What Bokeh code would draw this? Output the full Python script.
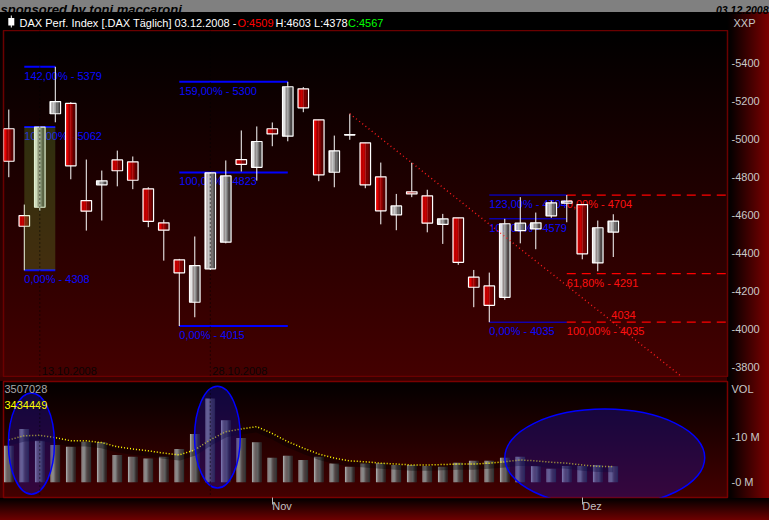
import numpy as np
from bokeh.plotting import figure
from bokeh.layouts import column, row
from bokeh.models import Range1d, FixedTicker, Span
from bokeh.core.properties import value
from bokeh.embed import file_html
from bokeh.resources import INLINE

# ---------------- data ----------------
last_date = "03.12.2008"
opens  = [5053, 4596, 4640, 5132, 5186, 4675, 4758, 4889, 4879, 4737,
          4558, 4363, 4140, 4316, 4456, 4891, 4850, 5053, 5014, 5263,
          5100, 4824, 5021, 4979, 4800, 4600, 4721, 4700, 4550, 4584,
          4272, 4226, 4166, 4517, 4526, 4595, 4661, 4654, 4347, 4509]
highs  = [5154, 4654, 5062, 5379, 5193, 4891, 4833, 4938, 4907, 4745,
          4575, 4368, 4486, 4823, 4886, 5044, 5065, 5086, 5300, 5272,
          5100, 5017, 5132, 4979, 4875, 4710, 4874, 4732, 4605, 4584,
          4310, 4296, 4579, 4693, 4612, 4675, 4704, 4654, 4570, 4603]
lows   = [4798, 4308, 4620, 5087, 4787, 4517, 4570, 4750, 4735, 4535,
          4359, 4015, 4061, 4310, 4450, 4828, 4780, 4961, 4987, 5140,
          4777, 4745, 4995, 4740, 4550, 4519, 4693, 4508, 4447, 4337,
          4114, 4035, 4153, 4450, 4419, 4584, 4561, 4366, 4303, 4378]
closes = [4882, 4540, 5062, 5196, 4858, 4619, 4779, 4832, 4782, 4566,
          4519, 4295, 4333, 4821, 4805, 4866, 4986, 5026, 5274, 5163,
          4810, 4937, 5022, 4758, 4621, 4647, 4710, 4556, 4579, 4350,
          4219, 4124, 4553, 4556, 4558, 4663, 4672, 4395, 4532, 4567]
volume_m = [8.0, 11.7, 9.1, 8.2, 7.8, 8.9, 8.8, 6.0, 5.6, 5.2,
            5.6, 7.3, 10.6, 18.4, 13.6, 9.7, 8.8, 5.4, 5.8, 4.9,
            5.6, 4.1, 3.4, 4.1, 4.2, 3.8, 3.8, 3.6, 3.4, 4.3,
            4.7, 4.7, 5.4, 5.6, 3.6, 3.0, 3.6, 3.6, 3.8, 3.507028]
vol_ma_m = [9.3, 10.2, 10.3, 9.8, 9.1, 9.1, 8.7, 7.8, 7.3, 6.9,
            6.4, 6.0, 7.1, 9.3, 11.1, 11.7, 12.2, 10.7, 8.9, 7.5,
            6.2, 5.3, 4.7, 4.5, 4.2, 4.0, 3.8, 3.8, 3.9, 4.0,
            4.0, 4.2, 4.5, 4.9, 4.7, 4.4, 4.2, 3.8, 3.5, 3.434449]

price_ticks = [3800, 4000, 4200, 4400, 4600, 4800, 5000, 5200, 5400]
vol_ticks = [0, 10]
vol_title_pos = 20.4
month_tick_idx = [17, 37]
month_tick_lbl = ["Nov", "Dez"]
date_mark_idx = [2, 13]
date_mark_lbl = ["13.10.2008", "28.10.2008"]

# Fibonacci tools (blue): anchors x, base low/high, levels
fib1_x = [1, 3];   fib1_base = [4308, 5062]; fib1_levels = [0.0, 1.0, 1.42]
fib2_x = [11, 18]; fib2_base = [4015, 4823]; fib2_levels = [0.0, 1.0, 1.59]
fib3_x = [31, 36]; fib3_base = [4035, 4579]; fib3_levels = [0.0, 1.0, 1.23]
# Fibonacci retracement (red): start x, 0% value, 100% value
fibr_x0 = 36; fibr_base = [4704, 4035]; fibr_levels = [0.0, 0.618, 1.0]
# trend line (red dotted) and its current value
trend_x = [22, 43.3]; trend_y = [5132, 3756]
trend_mark_x = 39; trend_mark_val = 4034
# ellipses on volume panel
ell_x = [1.46, 13.46, 38.45]
ell_y = [8.5, 9.9, 5.4]
ell_w = [2.97, 2.95, 12.9]
ell_h = [22.2, 22.3, 21.3]

# ---------------- helpers ----------------
FONT = "Liberation Sans"
W_PAGE = 769
R_BORDER = 42


def lerp(c0, c1, t):
    return "#%02x%02x%02x" % tuple(int(round(a + (b - a) * t)) for a, b in zip(c0, c1))


def strips(p, xc, top, bot, width, left_cols, right_cols, n=8):
    for k in range(n):
        t = k / (n - 1)
        cols = [lerp(a, b, t) for a, b in zip(left_cols, right_cols)]
        p.vbar(x=xc - width / 2 + (k + 0.5) * width / n, width=width / n * 1.06,
               top=top, bottom=bot, fill_color=cols, line_color=None)


def base_fig(width, height, **kw):
    p = figure(width=width, height=height, output_backend="svg",
               toolbar_location=None, **kw)
    p.border_fill_color = None
    p.background_fill_color = None
    p.xgrid.visible = False
    p.ygrid.visible = False
    return p


def fib_label(lv, val):
    return f"{lv * 100:.2f}".replace(".", ",") + "% - " + f"{val:.0f}"


def style_right_axis(ax, ticks, labels):
    ax.ticker = FixedTicker(ticks=ticks)
    ax.major_label_overrides = dict(zip(ticks, labels))
    ax.axis_line_color = None
    ax.major_tick_line_color = None
    ax.minor_tick_line_color = None
    ax.major_tick_out = 0
    ax.major_tick_in = 0
    ax.major_label_standoff = 4
    ax.major_label_text_color = "#c8c8c8"
    ax.major_label_text_font = FONT
    ax.major_label_text_font_size = "11px"


RB = "linear-gradient(to right, #000000 0%, #080000 10%, #7c0000 100%)"

N = len(opens)
idx = np.arange(N)
o = np.array(opens, float); h = np.array(highs, float)
l = np.array(lows, float); c = np.array(closes, float)
bull = c >= o
body_top = np.maximum(o, c)
body_bot = np.minimum(o, c)

XR = Range1d(-0.342, 46.37)
PR = Range1d(3744, 5570)
VR = Range1d(-3.33, 22.1)

# ---------------- header ----------------
hd = base_fig(W_PAGE, 30, x_range=Range1d(0, 769), y_range=Range1d(30, 0),
              x_axis_location=None, y_axis_location=None, min_border=0)
hd.outline_line_color = None
head_aligned_off = True
try:
    hd.frame_align = False
except Exception:
    head_aligned_off = False
hd.styles = {"background": "linear-gradient(#808080, #808080) left top / 100% 12px no-repeat, "
             f"{RB} right bottom / {R_BORDER}px 18px no-repeat, #000000"}
hd.text(x=[0], y=[8.5], text=["sponsored by toni.maccaroni"], text_font=value(FONT),
        text_font_size="13px", text_font_style="bold italic", text_color="#000000",
        text_baseline="alphabetic", text_align="left")
hd.text(x=[768], y=[9.5], text=[last_date], text_font=value(FONT),
        text_font_size="10.5px", text_font_style="bold italic", text_color="#000000",
        text_baseline="alphabetic", text_align="right")
hd.segment(x0=[10.8], y0=[15], x1=[10.8], y1=[27], line_color="white", line_width=1)
hd.quad(left=[7.8], right=[13.8], top=[17.5], bottom=[25], fill_color="white", line_color=None)
title_parts = [f"DAX Perf. Index [.DAX  Täglich] {last_date} -",
               f"O:{opens[-1]}", f"H:{highs[-1]} L:{lows[-1]}", f"C:{closes[-1]}"]
title_cols = ["#ffffff", "#ff0000", "#ffffff", "#00ff00"]
title_x = [19, 237, 275, 347.5]
hd.text(x=title_x, y=[22.5] * 4, text=title_parts, text_color=title_cols,
        text_font=value(FONT), text_font_size="11px", text_baseline="middle", text_align="left")
hd.text(x=[733], y=[22], text=["XXP"], text_color="#c8c8c8", text_font=value(FONT),
        text_font_size="11px", text_baseline="middle", text_align="left")

# ---------------- main price panel ----------------
pm = base_fig(W_PAGE, 347, x_range=XR, y_range=PR, x_axis_location=None,
              y_axis_location="right", min_border_left=3, min_border_right=R_BORDER,
              min_border_top=0, min_border_bottom=0)
pm.outline_line_color = "#6a0000"
pm.outline_line_width = 1.5
pm.styles = {"background": f"{RB} right top / {R_BORDER}px 100% no-repeat, "
             "linear-gradient(to bottom, #000000 0%, #440000 100%) left top / 100% 100% no-repeat"}
style_right_axis(pm.yaxis[0], price_ticks, [f"-{t}" for t in price_ticks])

for xi in date_mark_idx:
    pm.add_layout(Span(location=xi, dimension="height", line_color="#000000",
                       line_dash="1 3", line_width=1))
pm.text(x=date_mark_idx, y=[PR.start] * len(date_mark_idx), text=date_mark_lbl,
        text_color="#0c0404", text_font=value(FONT), text_font_size="11px",
        text_baseline="bottom", text_align="left", x_offset=2, y_offset=-3)

# blue fibonacci tools: lines and labels
for fx, fb, flv, lw in [(fib1_x, fib1_base, fib1_levels, 2),
                        (fib2_x, fib2_base, fib2_levels, 2),
                        (fib3_x, fib3_base, fib3_levels, 1)]:
    vals = [fb[0] + lv * (fb[1] - fb[0]) for lv in flv]
    pm.segment(x0=[fx[0]] * len(vals), x1=[fx[1]] * len(vals), y0=vals, y1=vals,
               line_color="#0000ff", line_width=lw)
    pm.text(x=[fx[0]] * len(vals), y=vals, text=[fib_label(lv, v) for lv, v in zip(flv, vals)],
            text_color="#0a0aff", text_font=value(FONT), text_font_size="11px",
            text_baseline="top", text_align="left", y_offset=3)

# red fibonacci retracement
rvals = [fibr_base[0] + lv * (fibr_base[1] - fibr_base[0]) for lv in fibr_levels]
pm.segment(x0=[fibr_x0] * len(rvals), x1=[XR.end] * len(rvals), y0=rvals, y1=rvals,
           line_color="#ff0000", line_width=1.3, line_dash="9 6")
pm.text(x=[fibr_x0] * len(rvals), y=rvals,
        text=[fib_label(lv, v) for lv, v in zip(fibr_levels, rvals)],
        text_color="#ff1010", text_font=value(FONT), text_font_size="11px",
        text_baseline="top", text_align="left", y_offset=3)

# candles
W = 0.68
pm.segment(x0=idx, y0=h, x1=idx, y1=l, line_color="white", line_width=1)
left_cols = [(255, 255, 255) if b else (255, 0, 0) for b in bull]
right_cols = [(66, 66, 66) if b else (80, 0, 0) for b in bull]
strips(pm, idx, body_top, body_bot, W, left_cols, right_cols)
pm.vbar(x=idx, width=W, top=body_top, bottom=body_bot, fill_color=None,
        line_color="white", line_width=1.2)
doji = np.abs(c - o) < 3
pm.segment(x0=idx[doji] - W / 2, x1=idx[doji] + W / 2, y0=c[doji], y1=c[doji],
           line_color="white", line_width=1.5)

# highlighted box of the first fibonacci tool
pm.quad(left=[fib1_x[0]], right=[fib1_x[1]], bottom=[fib1_base[0]], top=[fib1_base[1]],
        fill_color="#86c03c", fill_alpha=0.24, line_color=None)

# trend line
pm.line(x=trend_x, y=trend_y, line_color="#ff1a1a", line_dash="1 3", line_width=1.4)
pm.text(x=[trend_mark_x], y=[trend_mark_val], text=[f"{trend_mark_val}"],
        text_color="#ff1010", text_font=value(FONT), text_font_size="11px",
        text_baseline="bottom", text_align="left", x_offset=-2, y_offset=-3)

# ---------------- volume panel ----------------
pv = base_fig(W_PAGE, 143, x_range=XR, y_range=VR, x_axis_location="below",
              y_axis_location="right", min_border_left=3, min_border_right=R_BORDER,
              min_border_top=4, min_border_bottom=22)
pv.outline_line_color = "#7a0000"
pv.outline_line_width = 1.5
pv.styles = {"background": f"{RB} right top / {R_BORDER}px 121px no-repeat, "
             "linear-gradient(to bottom, #000000, #6e0000) left bottom / 100% 22px no-repeat, "
             "linear-gradient(#380000, #380000) left top / 100% 4px no-repeat, "
             "linear-gradient(to bottom, #000000, #440000) left top / 100% 121px no-repeat"}
style_right_axis(pv.yaxis[0], vol_ticks + [vol_title_pos],
                 [f"-{t} M" for t in vol_ticks] + ["VOL"])

vx = pv.xaxis[0]
vx.ticker = FixedTicker(ticks=month_tick_idx)
vx.major_label_overrides = dict(zip(month_tick_idx, month_tick_lbl))
vx.axis_line_color = None
vx.minor_tick_line_color = None
vx.major_tick_in = 0
vx.major_tick_out = 7
vx.major_tick_line_color = "#b8b8b8"
vx.major_label_standoff = 1
vx.major_label_orientation = -0.0001
vx.major_label_text_color = "#c0c0c0"
vx.major_label_text_font = FONT
vx.major_label_text_font_size = "11px"

for xi in date_mark_idx:
    pv.add_layout(Span(location=xi, dimension="height", line_color="#000000",
                       line_dash="1 3", line_width=1))

vol = np.array(volume_m)
strips(pv, idx, vol, np.zeros(N), 0.62, [(165, 165, 165)] * N, [(48, 48, 48)] * N)
pv.line(x=idx, y=np.array(vol_ma_m) - 0.7, line_color="#000000", line_alpha=0.35, line_width=5)
pv.line(x=idx, y=vol_ma_m, line_color="#ffff00", line_dash="1 2", line_width=1.5)
pv.ellipse(x=ell_x, y=ell_y, width=ell_w, height=ell_h, fill_color="#2010b0",
           fill_alpha=0.35, line_color="#0000ff", line_width=1.5)

pv.text(x=[XR.start, XR.start], y=[20.4, 16.9],
        text=[f"{volume_m[-1] * 1e6:.0f}", f"{vol_ma_m[-1] * 1e6:.0f}"],
        text_color=["#a8a8a8", "#ffff00"], text_font=value(FONT), text_font_size="11px",
        text_baseline="middle", text_align="left", x_offset=1)

if head_aligned_off:
    layout = column(hd, pm, pv, spacing=0)
else:
    layout = column(row(hd), pm, pv, spacing=0)
open("out.html", "w").write(file_html(layout, INLINE))
